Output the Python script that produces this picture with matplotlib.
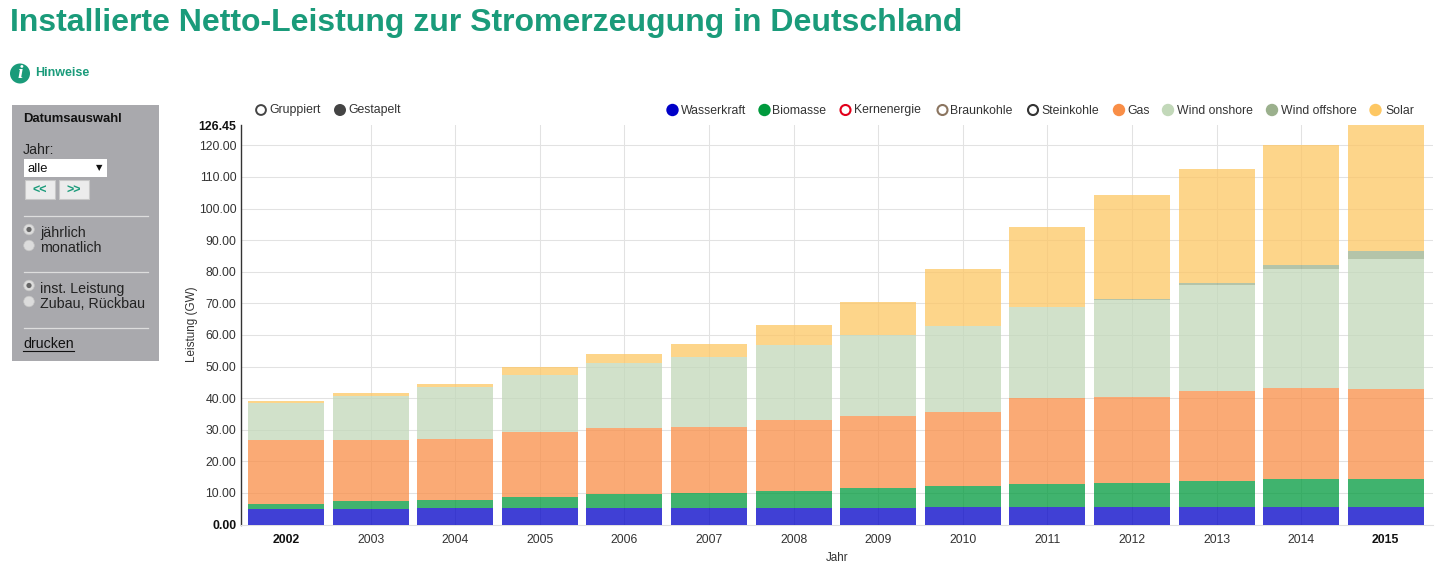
import matplotlib
matplotlib.use("Agg")
import matplotlib.pyplot as plt
from matplotlib.patches import Rectangle, Circle

plt.rcParams['font.family'] = ['Liberation Sans', 'DejaVu Sans']

years = [2002, 2003, 2004, 2005, 2006, 2007, 2008, 2009, 2010, 2011, 2012, 2013, 2014, 2015]
wasserkraft = [4.8, 4.8, 5.1, 5.1, 5.1, 5.1, 5.1, 5.3, 5.4, 5.6, 5.6, 5.6, 5.6, 5.6]
biomasse = [1.7, 2.5, 2.7, 3.6, 4.4, 4.8, 5.4, 6.1, 6.7, 7.3, 7.6, 8.3, 8.8, 8.8]
gas = [20.3, 19.4, 19.4, 20.6, 21.1, 21.1, 22.7, 23.0, 23.5, 27.2, 27.3, 28.4, 28.9, 28.6]
wind_onshore = [11.7, 14.1, 16.3, 18.1, 20.4, 22.1, 23.6, 25.6, 27.2, 28.7, 30.6, 33.5, 37.7, 41.0]
wind_offshore = [0, 0, 0, 0, 0, 0, 0, 0, 0.1, 0.2, 0.3, 0.5, 1.0, 2.6]
solar = [0.5, 0.7, 1.1, 2.4, 3.0, 4.1, 6.2, 10.5, 17.9, 25.2, 33.0, 36.3, 38.0, 39.85]

series = [wasserkraft, biomasse, gas, wind_onshore, wind_offshore, solar]
colors = ['#0000c8', '#009a3d', '#f98e47', '#c2d8b9', '#9bb08d', '#fdc763']
y_ticks = [0, 10, 20, 30, 40, 50, 60, 70, 80, 90, 100, 110, 120, 126.45]

legend_names = ['Wasserkraft', 'Biomasse', 'Kernenergie', 'Braunkohle', 'Steinkohle',
                'Gas', 'Wind onshore', 'Wind offshore', 'Solar']
legend_fill = ['#0000c8', '#009a3d', 'white', 'white', 'white', '#f98e47', '#c2d8b9', '#9bb08d', '#fdc763']
legend_edge = ['#0000c8', '#009a3d', '#e2001a', '#8b7560', '#333333', '#f98e47', '#c2d8b9', '#9bb08d', '#fdc763']
legend_dot_x = [672.5, 764.5, 845.5, 942.5, 1033, 1119, 1168, 1272, 1375.5]
legend_text_x = [681, 772, 854, 950, 1041, 1127, 1177, 1281, 1385]

W, H = 1442, 565
fig = plt.figure(figsize=(W / 100, H / 100), dpi=100, facecolor='white')

ov = fig.add_axes([0, 0, 1, 1], zorder=3)
ov.set_xlim(0, W); ov.set_ylim(H, 0); ov.axis('off')
ov.patch.set_alpha(0)

green = '#1a9b7a'
ov.text(10, 23, 'Installierte Netto-Leistung zur Stromerzeugung in Deutschland',
        color=green, fontsize=23.0, fontweight='bold', va='center', ha='left')
ov.add_patch(Circle((20, 73.5), 10, color=green, lw=0))
ov.text(20, 74, 'i', color='white', fontsize=14, fontweight='bold', style='italic',
        family='Liberation Serif', ha='center', va='center')
ov.text(35, 73.5, 'Hinweise', color=green, fontsize=9, fontweight='bold', va='center')

ov.add_patch(Rectangle((12, 105), 147, 256, color='#a9a9ad', lw=0))
panel = '#111111'
ov.text(23, 118.5, 'Datumsauswahl', fontsize=9.4, fontweight='bold', color=panel, va='center')
ov.text(23, 150, 'Jahr:', fontsize=10.2, color='#222222', va='center')
ov.add_patch(Rectangle((24, 159), 83, 18, color='white', lw=0))
ov.text(28, 168.5, 'alle', fontsize=9.4, color=panel, va='center')
ov.text(99, 167.5, '▼', fontsize=6, color=panel, va='center', ha='center', family='DejaVu Sans')
for x0, lab in [(24.5, '<<'), (58.5, '>>')]:
    ov.add_patch(Rectangle((x0, 180), 30.5, 19, facecolor='#ececec', edgecolor='#c8c8c8', lw=0.8))
    ov.text(x0 + 15, 191, lab, color=green, fontsize=9, fontweight='bold', ha='center', va='center')
for yy in [216, 272, 328]:
    ov.plot([24, 148], [yy, yy], color='#dddddd', lw=0.9)
for yy, lab, sel in [(232, 'jährlich', True), (248, 'monatlich', False),
                     (288, 'inst. Leistung', True), (304, 'Zubau, Rückbau', False)]:
    ov.add_patch(Circle((29, yy - 2.5), 5.3, facecolor='#dcdcdc', edgecolor='#c4c4c4', lw=0.5))
    if sel:
        ov.add_patch(Circle((29, yy - 2.5), 2.6, color='#666666', lw=0))
    ov.text(40, yy + 0.5, lab, fontsize=10.3, color='#222222', va='center')
ov.text(23, 344.5, 'drucken', fontsize=10.2, color=panel, va='center')
ov.plot([23, 74], [351, 351], color=panel, lw=0.8)

ov.add_patch(Circle((261, 110), 4.9, facecolor='white', edgecolor='#444444', lw=1.4))
ov.text(269, 110.5, 'Gruppiert', fontsize=8.8, color='#333333', va='center')
ov.add_patch(Circle((340, 110), 6, color='#444444', lw=0))
ov.text(348, 110.5, 'Gestapelt', fontsize=8.8, color='#333333', va='center')

for name, fc, ec, dx, tx in zip(legend_names, legend_fill, legend_edge, legend_dot_x, legend_text_x):
    ov.add_patch(Circle((dx, 110), 6.2 if fc != 'white' else 5.0, facecolor=fc, edgecolor=ec,
                        lw=0 if fc != 'white' else 1.5))
    ov.text(tx, 110.5, name, fontsize=8.8, color='#333333', va='center')

ax_l, ax_r, ax_t, ax_b = 240.5, 1433, 125, 524.5
ax = fig.add_axes([ax_l / W, 1 - ax_b / H, (ax_r - ax_l) / W, (ax_b - ax_t) / H], zorder=2)
cx0, step = 286.0, 84.6
ax.set_xlim((ax_l - cx0) / step, (ax_r - cx0) / step)
ax.set_ylim(0, 126.45)
xs = list(range(len(years)))
bottom = [0.0] * len(years)
for vals, col in zip(series, colors):
    ax.bar(xs, vals, width=76 / step, bottom=bottom, color=col, alpha=0.75, lw=0, zorder=3)
    bottom = [b + v for b, v in zip(bottom, vals)]

for s in ['top', 'right']:
    ax.spines[s].set_visible(False)
ax.spines['left'].set_color('#333333')
ax.spines['bottom'].set_color('#e0e0e0')
ax.spines['left'].set_linewidth(1)
ax.spines['bottom'].set_linewidth(0.8)

ax.set_yticks(y_ticks)
ax.set_yticklabels([f'{v:.2f}' for v in y_ticks])
ax.set_xticks(xs)
ax.set_xticklabels([str(y) for y in years])
ax.tick_params(axis='y', length=0, pad=3, labelsize=8.8, labelcolor='#333333')
ax.tick_params(axis='x', length=0, pad=6.5, labelsize=8.8, labelcolor='#333333')
for lab in ax.get_yticklabels():
    if lab.get_text() in ('126.45', '0.00'):
        lab.set_fontweight('bold'); lab.set_color('#111111')
for lab in ax.get_xticklabels():
    if lab.get_text() in ('2002', '2015'):
        lab.set_fontweight('bold'); lab.set_color('#111111')

for v in y_ticks[1:-1]:
    ax.axhline(v, color='#e2e2e2', lw=0.75, zorder=1)
for x in xs[1:-1]:
    ax.axvline(x, color='#e2e2e2', lw=0.75, zorder=1)

ax.set_ylabel('Leistung (GW)', fontsize=8.4, color='#333333', labelpad=0)
ax.set_xlabel('Jahr', fontsize=8.4, color='#333333', labelpad=5)

fig.savefig('out.png', dpi=100)
